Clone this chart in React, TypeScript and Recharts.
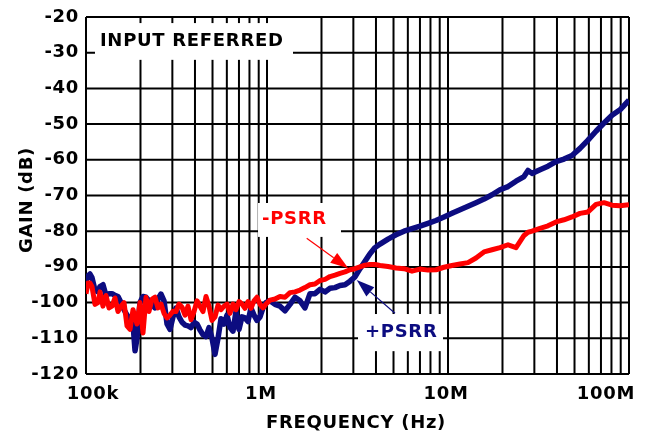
import React from "react";
import {
  LineChart, Line, XAxis, YAxis, CartesianGrid, ReferenceArea, ReferenceLine,
} from "recharts";

// frequency in MHz
const FREQ_MHZ = [
  0.1, 0.1026, 0.1052, 0.1079, 0.1121, 0.1165, 0.1195, 0.1241, 0.129, 0.134,
  0.1392, 0.1446, 0.1502, 0.1561, 0.1622, 0.1685, 0.1751, 0.1819, 0.1866, 0.1913,
  0.1987, 0.2065, 0.2145, 0.2229, 0.2315, 0.2406, 0.2499, 0.2597, 0.2698, 0.2803,
  0.2912, 0.3025, 0.3143, 0.3266, 0.3393, 0.3524, 0.3661, 0.3804, 0.3952, 0.4106,
  0.4265, 0.4431, 0.4603, 0.4782, 0.4968, 0.5161, 0.5362, 0.557, 0.5787, 0.6012,
  0.6246, 0.6489, 0.6741, 0.7003, 0.7275, 0.7558, 0.7852, 0.8157, 0.8474, 0.8803,
  0.9148, 0.9504, 0.9874, 1.039, 1.107, 1.18, 1.257, 1.34, 1.428, 1.522,
  1.621, 1.728, 1.841, 1.963, 2.092, 2.229, 2.375, 2.531, 2.698, 2.875,
  3.063, 3.265, 3.479, 3.708, 3.952, 4.211, 4.662, 5.162, 5.714, 6.326,
  7.004, 7.754, 8.584, 9.504, 10.52, 11.65, 12.9, 14.28, 15.81, 17.51,
  19.38, 21.46, 23.76, 26.3, 27.67, 29.12, 32.24, 35.69, 39.52, 43.75,
  48.43, 53.62, 59.37, 65.72, 72.76, 80.56, 89.18, 100,
];

// +PSRR, dB
const PLUS_PSRR = [
  -94, -92.5, -92, -93, -96.5, -97, -95.5, -95, -98, -97.5,
  -97.5, -98, -98.3, -100, -102, -103.5, -104.5, -106, -113.5, -110,
  -100, -98.3, -98.5, -99.5, -100.5, -101.5, -99, -97.6, -99.5, -106,
  -107.5, -104, -101.5, -104, -105.5, -106.3, -106.5, -107, -105.5, -106,
  -107.7, -109, -109.5, -107, -110, -114.5, -110, -104.5, -106, -103.5,
  -107, -108, -102.5, -107.5, -104, -104.3, -105.3, -101.5, -103.5, -105,
  -104, -101.5, -100, -99.5, -100.5, -101, -102.3, -100.5, -98.5, -99.5,
  -101.5, -97.5, -97.5, -96.3, -97, -96, -95.8, -95.2, -95, -94,
  -92.8, -90.5, -88.4, -86.3, -84.6, -83.6, -82.2, -81, -80, -79.3,
  -78.6, -77.8, -77, -76, -75, -74, -73, -72, -71, -69.8,
  -68.4, -67.5, -66, -64.7, -63, -63.8, -62.8, -61.8, -60.5, -59.8,
  -58.8, -56.8, -54.5, -52, -49.7, -47.5, -46, -43.3,
];

// -PSRR, dB
const MINUS_PSRR = [
  -97.5, -94.5, -94.5, -95.5, -100.5, -100, -97, -101, -98, -101.5,
  -101, -98.7, -102.5, -101, -100, -106.5, -107.5, -102, -104, -106,
  -100, -108.5, -98.5, -102.5, -99, -98.5, -101.5, -100.4, -103, -104.3,
  -103.5, -102.4, -102.5, -100.4, -101.3, -103.5, -101, -104.8, -102.5, -99.5,
  -101, -102.5, -98.3, -101, -105, -104, -100.7, -102, -101, -100.4,
  -103, -100.4, -102, -99.7, -100.4, -101.6, -99.7, -101.6, -99.5, -98.5,
  -100.5, -101.5, -100.4, -99.3, -99, -98.3, -98.5, -97.2, -97, -96.5,
  -95.8, -95, -94.8, -93.8, -93.5, -92.7, -92.3, -91.8, -91.4, -90.8,
  -90.5, -90, -89.5, -89.3, -89.3, -89.6, -89.9, -90.3, -90.5, -91.2,
  -90.6, -90.9, -90.8, -90.1, -89.6, -89.2, -88.8, -87.5, -85.8, -85.2,
  -84.6, -83.8, -84.6, -81.2, -80.3, -80, -79.2, -78.5, -77.4, -76.8,
  -76, -75, -74.6, -72.5, -72, -72.7, -72.9, -72.6,
];

const GAIN_TICKS = [-120, -110, -100, -90, -80, -70, -60, -50, -40, -30, -20];

// 1..9 per decade, 100k to 100M
const FREQ_GRID = [
  0.1, 0.2, 0.3, 0.4, 0.5, 0.6, 0.7, 0.8, 0.9,
  1, 2, 3, 4, 5, 6, 7, 8, 9,
  10, 20, 30, 40, 50, 60, 70, 80, 90,
  100,
];
const FREQ_LABELS: Record<string, string> = { "0.1": "100k", "1": "1M", "10": "10M", "100": "100M" };
const FREQ_LABEL_SHIFT: Record<string, number> = { "0.1": 7, "1": -6, "10": -2, "100": -23 };

const NAVY = "#0c0c80";
const RED = "#ff0000";

const font = {
  fontFamily: "'DejaVu Sans', Verdana, sans-serif",
  fontWeight: 700,
  fontSize: 18,
  letterSpacing: 0.7,
};

const data = FREQ_MHZ.map((f, i) => ({ f, plus: PLUS_PSRR[i], minus: MINUS_PSRR[i] }));

const renderGainTick = ({ x, y, payload }: any) => (
  <text x={x} y={y + 4.5} textAnchor="end" fill="#000" style={font}>
    {payload.value}
  </text>
);

const renderFreqTick = ({ x, y, payload }: any) => {
  const key = String(payload.value);
  if (!FREQ_LABELS[key]) return <g />;
  return (
    <text x={x + FREQ_LABEL_SHIFT[key]} y={y + 25} textAnchor="middle" fill="#000" style={font}>
      {FREQ_LABELS[key]}
    </text>
  );
};

const renderGainTitle = ({ viewBox }: any) => {
  const cx = viewBox.x + 25;
  const cy = viewBox.y + viewBox.height / 2 + 4.5;
  return (
    <text x={cx} y={cy} transform={`rotate(-90 ${cx} ${cy})`} textAnchor="middle" dominantBaseline="central" fill="#000" style={font}>
      GAIN (dB)
    </text>
  );
};

const renderFreqTitle = ({ viewBox }: any) => (
  <text x={viewBox.x + viewBox.width / 2 - 1.5} y={viewBox.y + 53.5} textAnchor="middle" fill="#000" style={font}>
    FREQUENCY (Hz)
  </text>
);

// white box with a caption, used for in-plot notes
const noteBox = (text: string, color: string, pad: number) => (p: any) => (
  <g>
    <rect x={p.x} y={p.y} width={p.width} height={p.height} fill="#fff" />
    <text x={p.x + pad} y={p.y + p.height / 2 + 4.5} fill={color} style={font}>
      {text}
    </text>
  </g>
);

// thin line ending in a filled arrowhead at (x2, y2)
const arrow = (color: string) => (p: any) => {
  const { x1, y1, x2, y2 } = p;
  const dx = x2 - x1;
  const dy = y2 - y1;
  const len = Math.hypot(dx, dy) || 1;
  const ux = dx / len;
  const uy = dy / len;
  const head = 18;
  const half = 6;
  const bx = x2 - ux * head;
  const by = y2 - uy * head;
  const pts = `${x2},${y2} ${bx - uy * half},${by + ux * half} ${bx + uy * half},${by - ux * half}`;
  return (
    <g>
      <line x1={x1} y1={y1} x2={bx} y2={by} stroke={color} strokeWidth={1.2} />
      <polygon points={pts} fill={color} />
    </g>
  );
};

export default function App() {
  return (
    <div style={{ position: "fixed", left: 0, top: 0 }}>
      <LineChart width={645} height={434} data={data} margin={{ top: 17, right: 16, bottom: 0, left: 0 }}>
        <CartesianGrid stroke="#000" strokeWidth={2} />
        <XAxis
          dataKey="f"
          type="number"
          scale="log"
          domain={[0.1, 100]}
          ticks={FREQ_GRID}
          interval={0}
          allowDataOverflow
          axisLine={false}
          tickLine={false}
          tickSize={0}
          tickMargin={0}
          height={60}
          tick={renderFreqTick}
          label={renderFreqTitle}
        />
        <YAxis
          type="number"
          domain={[-120, -20]}
          ticks={GAIN_TICKS}
          interval={0}
          allowDataOverflow
          axisLine={false}
          tickLine={false}
          tickSize={0}
          tickMargin={7}
          width={86}
          tick={renderGainTick}
          label={renderGainTitle}
        />
        <ReferenceArea x1={0.1121} x2={1.392} y1={-32} y2={-21.7} shape={noteBox("INPUT REFERRED", "#000", 5)} />
        <ReferenceArea x1={0.892} x2={2.563} y1={-81.6} y2={-72.1} shape={noteBox("-PSRR", RED, 4)} />
        <ReferenceArea x1={3.183} x2={9.385} y1={-113.6} y2={-103.2} shape={noteBox("+PSRR", NAVY, 7)} />
        <Line dataKey="plus" stroke={NAVY} strokeWidth={5.5} dot={false} strokeLinejoin="round" isAnimationActive={false} />
        <Line dataKey="minus" stroke={RED} strokeWidth={5} dot={false} strokeLinejoin="round" isAnimationActive={false} />
        <ReferenceLine segment={[{ x: 1.657, y: -82 }, { x: 2.813, y: -90.4 }]} shape={arrow(RED)} />
        <ReferenceLine segment={[{ x: 5.095, y: -103 }, { x: 3.131, y: -93.7 }]} shape={arrow(NAVY)} />
      </LineChart>
    </div>
  );
}
